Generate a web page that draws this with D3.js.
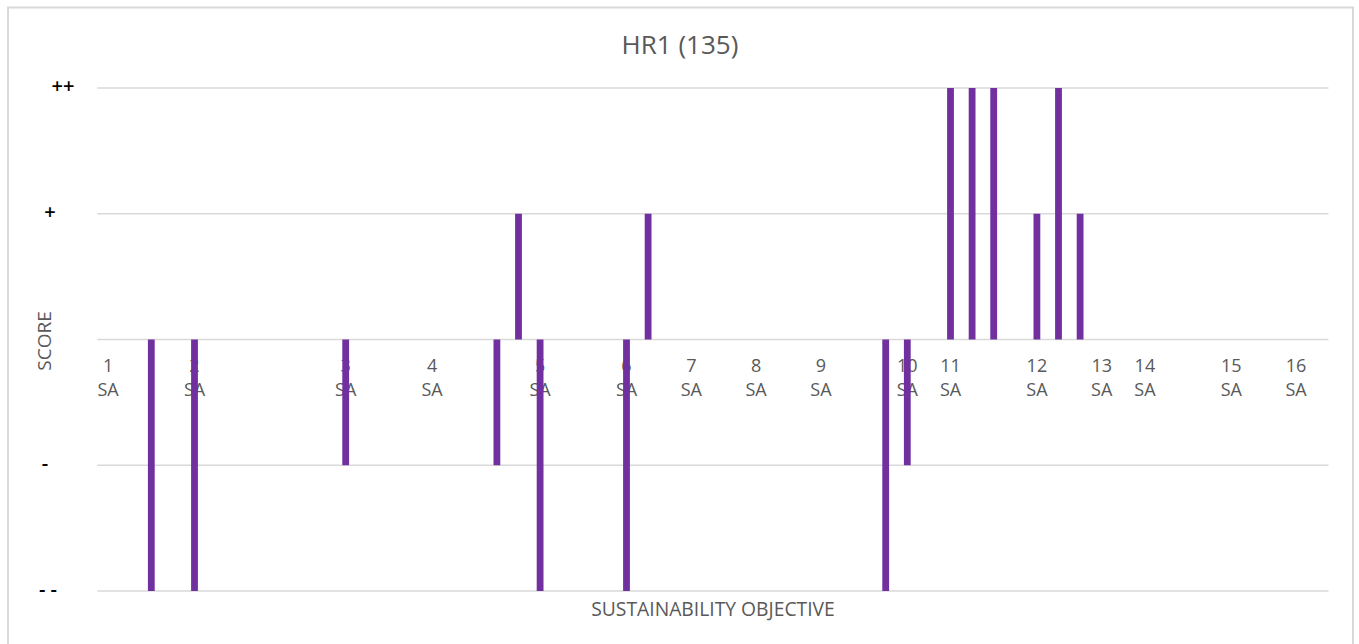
<!DOCTYPE html>
<html>
<head>
<meta charset="utf-8">
<script src="https://cdn.jsdelivr.net/npm/d3@7"></script>
<style>
  body { margin: 0; background: #fff; }
  text { font-family: 'Open Sans', sans-serif; }
</style>
</head>
<body>
<svg class="chart-svg" width="1359" height="644"></svg>
<script>
// 57 category slots; only some carry an objective label
const categoryLabels = [
  '1', '', '', '', '2', '', '', '', '', '', '', '3', '', '', '', '4', '', '', '', '', '5',
  '', '', '', '6', '', '', '7', '', '', '8', '', '', '9', '', '', '', '10', '', '11', '',
  '', '', '12', '', '', '13', '', '14', '', '', '', '15', '', '', '16', ''
]
const categorySuffix = 'SA'

// score per slot (0 = no bar)
const scores = [
  0, 0, -2, 0, -2, 0, 0, 0, 0, 0, 0, -1, 0, 0, 0, 0, 0, 0, -1, 1, -2,
  0, 0, 0, -2, 1, 0, 0, 0, 0, 0, 0, 0, 0, 0, 0, -2, -1, 0, 2, 2,
  2, 0, 1, 2, 1, 0, 0, 0, 0, 0, 0, 0, 0, 0, 0, 0
]

const yTickValues = [-2, -1, 0, 1, 2]
const yTickLabels = ['- -', '-', '', '+', '++']

const chartTitle = 'HR1 (135)'
const xTitle = 'SUSTAINABILITY OBJECTIVE'
const yTitle = 'SCORE'

const svg = d3.select('.chart-svg')
const grey = '#595959'
const gridColor = '#d9d9d9'
const barColor = '#7030a0'

const plotLeft = 97.3
const plotRight = 1328.5
const plotTop = 88
const plotBottom = 591

// outer border
svg.append('rect')
  .attr('x', 8).attr('y', 7.5)
  .attr('width', 1345).attr('height', 660)
  .attr('fill', 'none')
  .attr('stroke', gridColor)
  .attr('stroke-width', 2)

const pad = 0.685
const xScale = d3.scaleBand()
  .domain(d3.range(categoryLabels.length))
  .range([plotLeft, plotRight])
  .paddingInner(pad)
  .paddingOuter(pad / 2)

const yScale = d3.scaleLinear().domain([-2, 2]).range([plotBottom, plotTop])

// gridlines
svg.append('g')
  .selectAll('line')
  .data(yTickValues)
  .join('line')
  .attr('x1', plotLeft).attr('x2', plotRight)
  .attr('y1', d => yScale(d)).attr('y2', d => yScale(d))
  .attr('stroke', gridColor)
  .attr('stroke-width', 1.3)

// y tick labels (custom offsets to mimic the reference)
const tickX = { '-2': 48, '-1': 45, '0': 50, '1': 50, '2': 63 }
svg.append('g')
  .selectAll('text')
  .data(yTickValues)
  .join('text')
  .attr('x', d => tickX[d])
  .attr('y', d => yScale(d) + 5)
  .attr('text-anchor', 'middle')
  .attr('font-size', 20)
  .attr('font-weight', 600)
  .attr('fill', '#000')
  .text((d, i) => yTickLabels[i])

// category labels (drawn before the bars, bars cover them)
const cats = svg.append('g')
  .selectAll('g')
  .data(categoryLabels.map((c, i) => ({ c, i })).filter(d => d.c !== ''))
  .join('g')
  .attr('transform', d => `translate(${xScale(d.i) + xScale.bandwidth() / 2},0)`)
cats.append('text')
  .attr('y', yScale(0) + 32)
  .attr('text-anchor', 'middle')
  .attr('font-size', 18)
  .attr('fill', grey)
  .text(d => d.c)
cats.append('text')
  .attr('y', yScale(0) + 56)
  .attr('text-anchor', 'middle')
  .attr('font-size', 18)
  .attr('fill', grey)
  .text(categorySuffix)

// bars
svg.append('g')
  .selectAll('rect')
  .data(scores.map((v, i) => ({ v, i })).filter(d => d.v !== 0))
  .join('rect')
  .attr('x', d => xScale(d.i))
  .attr('width', xScale.bandwidth())
  .attr('y', d => yScale(Math.max(0, d.v)))
  .attr('height', d => Math.abs(yScale(d.v) - yScale(0)))
  .attr('fill', barColor)

// titles
svg.append('text')
  .attr('x', 680).attr('y', 54)
  .attr('text-anchor', 'middle')
  .attr('font-size', 26)
  .attr('fill', grey)
  .text(chartTitle)

svg.append('text')
  .attr('x', 713).attr('y', 616)
  .attr('text-anchor', 'middle')
  .attr('font-size', 19.3)
  .attr('fill', grey)
  .text(xTitle)

svg.append('text')
  .attr('transform', 'translate(51,341) rotate(-90)')
  .attr('text-anchor', 'middle')
  .attr('font-size', 19)
  .attr('fill', grey)
  .text(yTitle)
</script>
</body>
</html>
